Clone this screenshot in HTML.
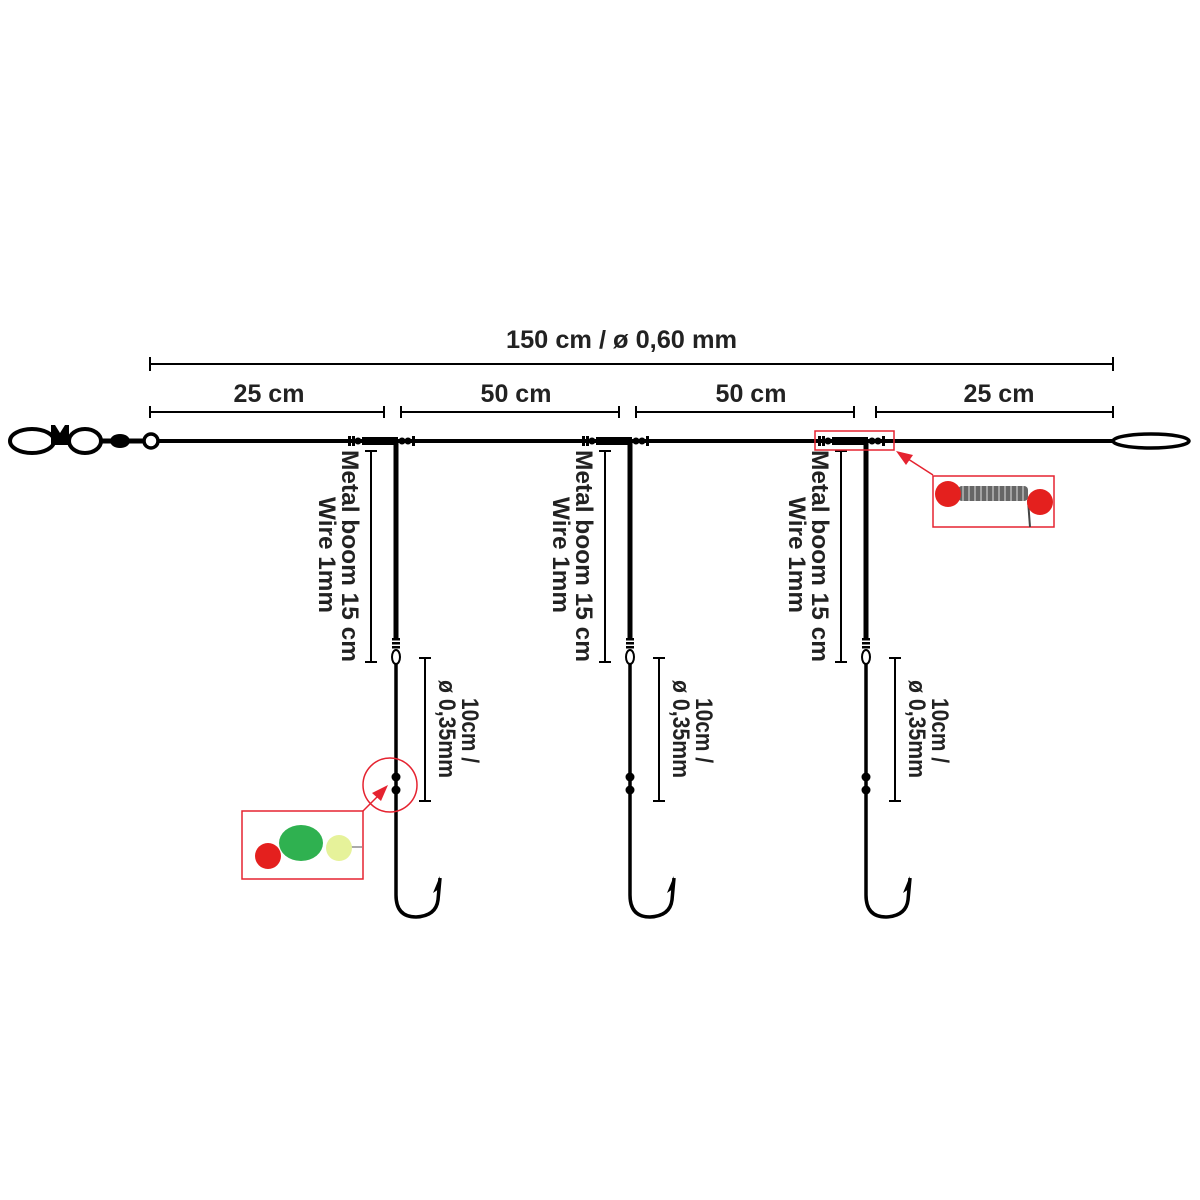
<!DOCTYPE html>
<html><head><style>body{margin:0;background:#fff}svg{display:block}text{font-family:"Liberation Sans",sans-serif;font-weight:bold;fill:#222}</style></head><body>
<svg width="1200" height="1200" viewBox="0 0 1200 1200" xmlns="http://www.w3.org/2000/svg">
<defs>
<g id="br">
 <line x1="0" y1="441" x2="0" y2="640" stroke="#000" stroke-width="5"/>
 <rect x="-34" y="437" width="36" height="8" fill="#000"/>
 <rect x="-48" y="436" width="3" height="10" fill="#000"/><rect x="-44" y="436" width="3" height="10" fill="#000"/><circle cx="-38" cy="441" r="3.5"/>
 <circle cx="6" cy="441" r="3.5"/><circle cx="12" cy="441" r="3.5"/><rect x="16" y="436" width="3" height="10"/>
 <rect x="-4" y="638" width="8" height="2.5"/><rect x="-4" y="642" width="8" height="2.5"/><rect x="-4" y="646" width="8" height="2.5"/>
 <ellipse cx="0" cy="657" rx="4" ry="7" fill="#fff" stroke="#000" stroke-width="2"/>
 <path d="M0 664 L0 895 Q0 917 20 917 Q40 916 42 900 L44 878" fill="none" stroke="#000" stroke-width="3.5"/>
 <path d="M44 876 L37 893 L43 889 Z" fill="#000"/>
 <circle cx="0" cy="777" r="4.5"/><circle cx="0" cy="790" r="4.5"/>
 <g stroke="#000" stroke-width="2"><line x1="-25" y1="451" x2="-25" y2="662"/><line x1="-31" y1="451" x2="-19" y2="451"/><line x1="-31" y1="662" x2="-19" y2="662"/>
 <line x1="29" y1="658" x2="29" y2="801"/><line x1="23" y1="658" x2="35" y2="658"/><line x1="23" y1="801" x2="35" y2="801"/></g>
 <text transform="translate(-54,450) rotate(90)" font-size="24" textLength="212" lengthAdjust="spacingAndGlyphs">Metal boom 15 cm</text>
 <text transform="translate(-77,497) rotate(90)" font-size="24" textLength="116" lengthAdjust="spacingAndGlyphs">Wire 1mm</text>
 <text transform="translate(66,698) rotate(90)" font-size="24" textLength="65" lengthAdjust="spacingAndGlyphs">10cm /</text>
 <text transform="translate(43,680) rotate(90)" font-size="24" textLength="98" lengthAdjust="spacingAndGlyphs">ø 0,35mm</text>
</g>
</defs>
<g stroke="#000" stroke-width="2">
<line x1="150" y1="364" x2="1113" y2="364"/><line x1="150" y1="357" x2="150" y2="371"/><line x1="1113" y1="357" x2="1113" y2="371"/>
<line x1="150" y1="412" x2="384" y2="412"/><line x1="150" y1="406" x2="150" y2="418"/><line x1="384" y1="406" x2="384" y2="418"/>
<line x1="401" y1="412" x2="619" y2="412"/><line x1="401" y1="406" x2="401" y2="418"/><line x1="619" y1="406" x2="619" y2="418"/>
<line x1="636" y1="412" x2="854" y2="412"/><line x1="636" y1="406" x2="636" y2="418"/><line x1="854" y1="406" x2="854" y2="418"/>
<line x1="876" y1="412" x2="1113" y2="412"/><line x1="876" y1="406" x2="876" y2="418"/><line x1="1113" y1="406" x2="1113" y2="418"/>
</g>
<text x="506" y="348" font-size="25" textLength="231" lengthAdjust="spacingAndGlyphs">150 cm / ø 0,60 mm</text>
<text x="269" y="402" font-size="25" text-anchor="middle">25 cm</text>
<text x="516" y="402" font-size="25" text-anchor="middle">50 cm</text>
<text x="751" y="402" font-size="25" text-anchor="middle">50 cm</text>
<text x="999" y="402" font-size="25" text-anchor="middle">25 cm</text>
<line x1="158" y1="441" x2="1113" y2="441" stroke="#000" stroke-width="4"/>
<ellipse cx="1151" cy="441" rx="38" ry="7" fill="#fff" stroke="#000" stroke-width="3.5"/>
<ellipse cx="32" cy="441" rx="22" ry="12" fill="#fff" stroke="#000" stroke-width="4"/>
<path d="M51 425 L55 425 L60 433 L65 425 L69 425 L69 445 L51 445 Z" fill="#000"/>
<ellipse cx="85" cy="441" rx="16" ry="12" fill="#fff" stroke="#000" stroke-width="4"/>
<line x1="100" y1="441" x2="144" y2="441" stroke="#000" stroke-width="5"/>
<ellipse cx="120" cy="441" rx="10" ry="7"/>
<circle cx="151" cy="441" r="7" fill="#fff" stroke="#000" stroke-width="3.5"/>
<use href="#br" x="396"/>
<use href="#br" x="630"/>
<use href="#br" x="866"/>
<circle cx="390" cy="785" r="27" fill="none" stroke="#e52330" stroke-width="1.5"/>
<line x1="352" y1="822" x2="380" y2="794" stroke="#e52330" stroke-width="1.5"/>
<path d="M388 785 L372 793 L381 801 Z" fill="#e52330"/>
<rect x="242" y="811" width="121" height="68" fill="#fff" stroke="#e52330" stroke-width="1.5"/>
<line x1="330" y1="847" x2="362" y2="847" stroke="#aaa" stroke-width="2"/>
<circle cx="268" cy="856" r="13" fill="#e4201e"/>
<ellipse cx="301" cy="843" rx="22" ry="18" fill="#2fb150"/>
<circle cx="339" cy="848" r="13" fill="#e6f29a"/>
<rect x="815" y="431" width="79" height="19" fill="none" stroke="#e52330" stroke-width="1.5"/>
<line x1="933" y1="475" x2="905" y2="457" stroke="#e52330" stroke-width="1.5"/>
<path d="M896 451 L913 455 L906 465 Z" fill="#e52330"/>
<rect x="933" y="476" width="121" height="51" fill="#fff" stroke="#e52330" stroke-width="1.5"/>
<rect x="958" y="486" width="70" height="15" fill="#666" rx="4"/>
<g stroke="#ccc" stroke-width="1.2">
<line x1="963" y1="486" x2="963" y2="501"/><line x1="969" y1="486" x2="969" y2="501"/><line x1="975" y1="486" x2="975" y2="501"/><line x1="981" y1="486" x2="981" y2="501"/><line x1="987" y1="486" x2="987" y2="501"/><line x1="993" y1="486" x2="993" y2="501"/><line x1="999" y1="486" x2="999" y2="501"/><line x1="1005" y1="486" x2="1005" y2="501"/><line x1="1011" y1="486" x2="1011" y2="501"/><line x1="1017" y1="486" x2="1017" y2="501"/><line x1="1023" y1="486" x2="1023" y2="501"/></g>
<line x1="1028" y1="500" x2="1030" y2="527" stroke="#444" stroke-width="2"/>
<circle cx="948" cy="494" r="13" fill="#e4201e"/>
<circle cx="1040" cy="502" r="13" fill="#e4201e"/>
</svg>
</body></html>
